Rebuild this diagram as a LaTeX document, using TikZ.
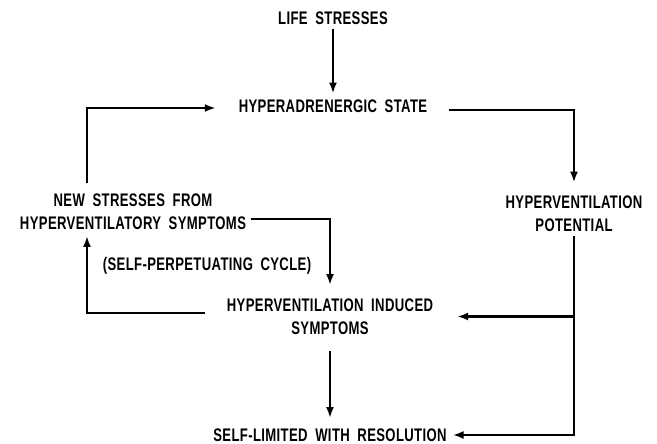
\documentclass[tikz,border=0pt]{standalone}
\usepackage{fontspec}
\setmainfont{Liberation Sans}[FakeStretch=0.72, WordSpace=1.9, LetterSpace=2]
\usepackage{tikz}
\usetikzlibrary{arrows.meta, positioning}

\begin{document}
\begin{tikzpicture}[x=1pt, y=-1pt,
    label/.style={inner sep=0pt, outer sep=6pt, align=center,
        font=\fontsize{18.2}{23}\selectfont\bfseries},
    link/.style={line width=2.6pt, line cap=rect},
    arrow/.style={link, -{Latex[length=11pt, width=8pt]}}
]
\useasboundingbox (0,0) rectangle (657,444);

% Statements
\node[label] (life) at (333,18) {LIFE STRESSES};
\node[label] (hyper) at (333,106) {HYPERADRENERGIC STATE};
\node[label] (potential) at (574,213.5) {HYPERVENTILATION\\POTENTIAL};
\node[label] (newstress) at (133,212) {NEW STRESSES FROM\\HYPERVENTILATORY SYMPTOMS};
\node[label] (induced) at (330,316.5) {HYPERVENTILATION INDUCED\\SYMPTOMS};
\node[label] (resolved) at (330,435) {SELF-LIMITED WITH RESOLUTION};
\node[label] (cycle) at (207,266) {(SELF-PERPETUATING CYCLE)};

\coordinate (lx) at (87,0);

% Arrows
\draw[arrow] (life) -- (hyper);
\draw[arrow, shorten <=6pt, shorten >=17pt] (lx |- newstress.north) |- ([yshift=-2pt]hyper.west);
\draw[arrow] ([xshift=17pt, yshift=-4pt]hyper.east) -| ([yshift=7pt]potential.north);
\draw[arrow] ([yshift=-7pt]newstress.east) -| ([yshift=7.5pt]induced.north);
\draw[arrow, shorten <=17pt] ([yshift=3.5pt]induced.west) -| (lx |- newstress.south);
\draw[arrow] ([yshift=-11.5pt]induced.south) -- ([yshift=4.5pt]resolved.north);

% Right branch
\draw[link] (potential.south) -- (potential.south |- resolved.east);
\draw[arrow] (potential.south |- induced.east) -- ([xshift=18pt]induced.east);
\draw[arrow] (potential.south |- resolved.east) -- (resolved.east);

\end{tikzpicture}
\end{document}
